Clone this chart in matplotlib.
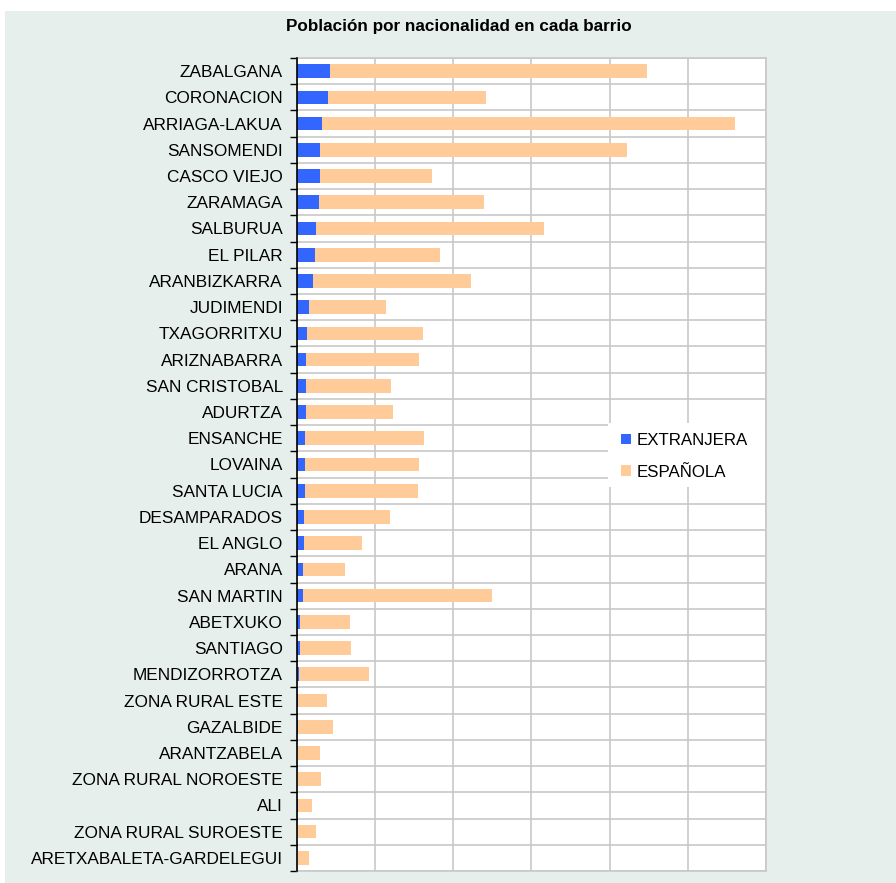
import matplotlib.pyplot as plt
import numpy as np
from matplotlib.patches import Rectangle

plt.rcParams['font.family'] = ['Liberation Sans', 'DejaVu Sans']

barrios = ['ZABALGANA', 'CORONACION', 'ARRIAGA-LAKUA', 'SANSOMENDI', 'CASCO VIEJO',
           'ZARAMAGA', 'SALBURUA', 'EL PILAR', 'ARANBIZKARRA', 'JUDIMENDI',
           'TXAGORRITXU', 'ARIZNABARRA', 'SAN CRISTOBAL', 'ADURTZA', 'ENSANCHE',
           'LOVAINA', 'SANTA LUCIA', 'DESAMPARADOS', 'EL ANGLO', 'ARANA',
           'SAN MARTIN', 'ABETXUKO', 'SANTIAGO', 'MENDIZORROTZA', 'ZONA RURAL ESTE',
           'GAZALBIDE', 'ARANTZABELA', 'ZONA RURAL NOROESTE', 'ALI',
           'ZONA RURAL SUROESTE', 'ARETXABALETA-GARDELEGUI']

extranjera = [854, 795, 649, 597, 597, 572, 495, 469, 418, 315,
              264, 238, 238, 238, 213, 213, 213, 187, 187, 162,
              162, 85, 85, 59, 30, 30, 8, 8, 30, 8, 5]
total = [8956, 4828, 11213, 8443, 3469, 4802, 6315, 3674, 4469, 2290,
         3238, 3136, 2418, 2469, 3264, 3136, 3110, 2392, 1674, 1238,
         4982, 1367, 1392, 1854, 777, 931, 597, 623, 392, 495, 315]
espanola = [t - e for t, e in zip(total, extranjera)]

W, H = 896, 883
fig = plt.figure(figsize=(W / 100, H / 100), dpi=100)
fig.patch.set_facecolor('white')
fig.patches.append(Rectangle((5 / W, 0), 1 - 5 / W, (H - 11) / H,
                             transform=fig.transFigure, facecolor='#e6efec',
                             edgecolor='none', zorder=-5))

ax = fig.add_axes([296.7 / W, 1 - 871 / H, (766 - 296.7) / W, (871 - 58) / H])
ax.set_facecolor('white')

y = np.arange(len(barrios))
ax.barh(y, extranjera, height=0.52, color='#3366ff', label='EXTRANJERA', zorder=3)
ax.barh(y, espanola, left=extranjera, height=0.52, color='#ffcc99',
        label='ESPAÑOLA', zorder=3)

ax.set_xlim(0, 12000)
ax.set_ylim(len(barrios) - 0.5, -0.5)
ax.set_xticks(np.arange(0, 12001, 2000))
ax.set_xticklabels([])
ax.tick_params(axis='x', length=0)
ax.set_yticks(y)
ax.set_yticklabels(barrios, fontsize=12.45)
ax.set_yticks(np.arange(-0.5, len(barrios), 1), minor=True)
ax.tick_params(axis='y', which='major', length=0, pad=10)
ax.tick_params(axis='y', which='minor', length=5, width=1, color='black',
               direction='out')
ax.grid(axis='x', which='major', color='#c8c8c8', linewidth=1.2, zorder=1)
ax.grid(axis='y', which='minor', color='#c8c8c8', linewidth=1.2, zorder=1)
ax.set_axisbelow(True)

for side in ['top', 'right', 'bottom']:
    ax.spines[side].set_color('#c8c8c8')
    ax.spines[side].set_linewidth(1.2)
ax.spines['left'].set_color('black')
ax.spines['left'].set_linewidth(1.2)
ax.spines['left'].set_zorder(5)

# white box behind the legend
fig.patches.append(Rectangle((608 / W, 1 - 487 / H), (765 - 608) / W, 64 / H,
                             transform=fig.transFigure, facecolor='white',
                             edgecolor='none', zorder=10))
leg = fig.legend(loc='upper left', bbox_to_anchor=(609 / W, 1 - 421 / H),
                 frameon=False, fontsize=12.2, handlelength=0.6,
                 handleheight=0.6, handletextpad=0.35, labelspacing=1.0,
                 borderpad=0.2)
leg.set_zorder(11)

fig.text(459 / W, 1 - 26 / H, 'Población por nacionalidad en cada barrio',
         ha='center', va='center', fontsize=12.3, fontweight='bold')

fig.savefig('out.png', dpi=100, facecolor=fig.get_facecolor())
